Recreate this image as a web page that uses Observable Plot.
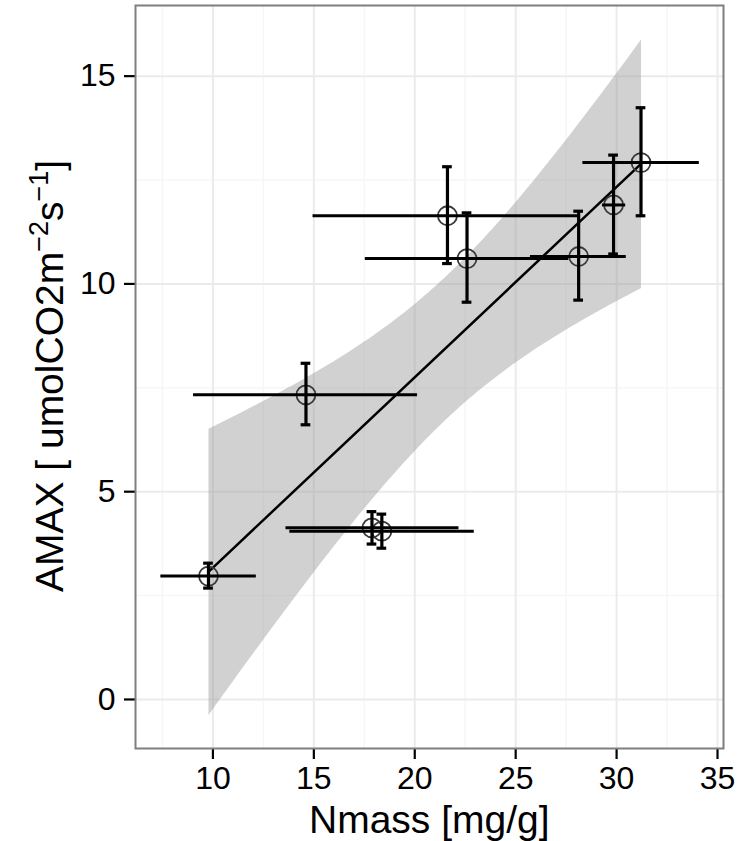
<!DOCTYPE html>
<html>
<head>
<meta charset="utf-8">
<script src="https://cdn.jsdelivr.net/npm/d3@7"></script>
<script src="https://cdn.jsdelivr.net/npm/@observablehq/plot@0.6"></script>
<style>
  html, body { margin: 0; padding: 0; background: #fff; }
</style>
</head>
<body>
<div id="chart"></div>
<script>
// Leaf nitrogen (Nmass) vs. light-saturated photosynthesis (AMAX), mean ± sd per group
const nmass   = [9.78, 14.61, 17.88, 18.37, 21.62, 22.59, 28.12, 29.85, 31.21];
const nmassLo = [7.42,  9.04, 13.62, 13.81, 14.96, 17.55, 25.73, 29.30, 28.33];
const nmassHi = [12.15, 20.14, 22.19, 22.95, 28.20, 27.63, 30.48, 30.45, 34.10];
const amax    = [2.97, 7.33, 4.13, 4.05, 11.64, 10.61, 10.66, 11.90, 12.92];
const amaxLo  = [2.68, 6.61, 3.74, 3.64, 10.49,  9.56,  9.61, 10.72, 11.64];
const amaxHi  = [3.28, 8.09, 4.52, 4.46, 12.82, 11.71, 11.75, 13.10, 14.24];

const xTicks = [10, 15, 20, 25, 30, 35];
const yTicks = [0, 5, 10, 15];
const xMinor = [7.5, 12.5, 17.5, 22.5, 27.5, 32.5];
const yMinor = [2.5, 7.5, 12.5];

const rows = nmass.map((x, i) => ({
  x, y: amax[i],
  xlo: nmassLo[i], xhi: nmassHi[i],
  ylo: amaxLo[i], yhi: amaxHi[i]
}));

const font = "'Liberation Sans', Arial, Helvetica, sans-serif";
const cap = 0.24; // half-width of error bar caps, in Nmass units

const svg = Plot.plot({
  width: 741,
  height: 841,
  marginLeft: 135,
  marginRight: 18,
  marginTop: 5,
  marginBottom: 93,
  style: { fontFamily: font, fontSize: "32px", color: "black", background: "white" },
  x: { domain: [6.164, 35.297] },
  y: { domain: [-1.18, 16.70] },
  marks: [
    // panel grid
    Plot.gridX(xMinor, { stroke: "#f6f6f6", strokeOpacity: 1, strokeWidth: 1.5 }),
    Plot.gridY(yMinor, { stroke: "#f6f6f6", strokeOpacity: 1, strokeWidth: 1.5 }),
    Plot.gridX(xTicks, { stroke: "#ebebeb", strokeOpacity: 1, strokeWidth: 2 }),
    Plot.gridY(yTicks, { stroke: "#ebebeb", strokeOpacity: 1, strokeWidth: 2 }),
    // linear fit with 95% confidence band
    Plot.linearRegressionY(rows, {
      x: "x", y: "y", ci: 0.95,
      stroke: "black", strokeWidth: 2.5,
      fill: "#999999", fillOpacity: 0.45
    }),
    // group means
    Plot.dot(rows, { x: "x", y: "y", r: 9.5, stroke: "#3a3a3a", strokeWidth: 1.8, fill: "none" }),
    // vertical error bars with caps
    Plot.ruleX(rows, { x: "x", y1: "ylo", y2: "yhi", stroke: "black", strokeWidth: 3.2 }),
    Plot.ruleY(rows, { y: "ylo", x1: d => d.x - cap, x2: d => d.x + cap, stroke: "black", strokeWidth: 3.2 }),
    Plot.ruleY(rows, { y: "yhi", x1: d => d.x - cap, x2: d => d.x + cap, stroke: "black", strokeWidth: 3.2 }),
    // horizontal error bars
    Plot.ruleY(rows, { y: "y", x1: "xlo", x2: "xhi", stroke: "black", strokeWidth: 3 }),
    // axes
    Plot.axisX({ ticks: xTicks, tickSize: 11, tickPadding: 7, strokeWidth: 2.2, label: null, fontSize: 32 }),
    Plot.axisY({ ticks: yTicks, tickSize: 11, tickPadding: 9, strokeWidth: 2.2, label: null, fontSize: 32 }),
    Plot.frame({ stroke: "#7f7f7f", strokeWidth: 2 })
  ]
});

// axis titles
const s = d3.select(svg);
s.append("text")
  .attr("x", 429.3)
  .attr("y", 833)
  .attr("text-anchor", "middle")
  .attr("font-family", font)
  .attr("font-size", 39)
  .attr("fill", "black")
  .text("Nmass [mg/g]");

const yt = s.append("text")
  .attr("transform", "translate(63,376) rotate(-90)")
  .attr("text-anchor", "middle")
  .attr("font-family", font)
  .attr("font-size", 39)
  .attr("fill", "black");
yt.append("tspan").text("AMAX [ umolCO2m");
yt.append("tspan").attr("font-size", 27).attr("dy", -15).text("\u22122");
yt.append("tspan").attr("dy", 15).text("s");
yt.append("tspan").attr("font-size", 27).attr("dy", -15).text("\u22121");
yt.append("tspan").attr("dy", 15).text("]");

document.getElementById("chart").appendChild(svg);
</script>
</body>
</html>
